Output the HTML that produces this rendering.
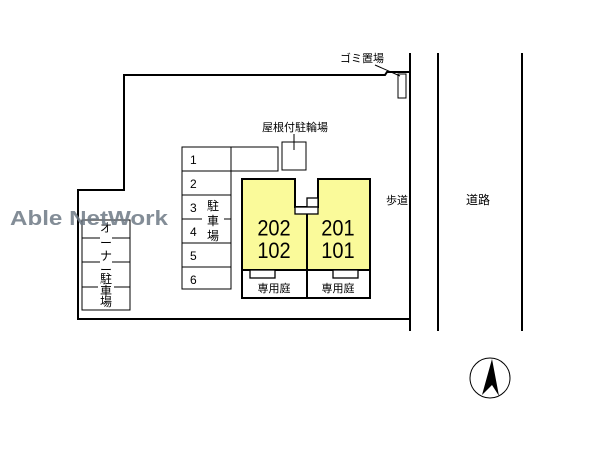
<!DOCTYPE html>
<html><head><meta charset="utf-8"><style>body{margin:0;background:#fff}</style></head><body>
<svg width="600" height="450" xmlns="http://www.w3.org/2000/svg" font-family="Liberation Sans, Noto Sans CJK JP, sans-serif">
<rect width="600" height="450" fill="#fff"/>
<g stroke="#000" fill="none" stroke-width="2">
<path d="M410,72 L387,72 L385,75 L124,75 L124,190 L78,190 L78,319 L410,319"/>
<line x1="410" y1="53" x2="410" y2="331"/>
<line x1="438" y1="53" x2="438" y2="331"/>
<line x1="522" y1="53" x2="522" y2="331"/>
</g>
<g stroke="#000" fill="none" stroke-width="1">
<rect x="398" y="74" width="8" height="24"/>
<line x1="375" y1="65" x2="400" y2="76"/>
<rect x="182" y="147" width="49" height="142"/>
<line x1="182" y1="171" x2="231" y2="171"/><line x1="182" y1="195" x2="231" y2="195"/>
<line x1="182" y1="219" x2="202" y2="219"/><line x1="224" y1="219" x2="231" y2="219"/>
<line x1="182" y1="243" x2="231" y2="243"/><line x1="182" y1="267" x2="231" y2="267"/>
<rect x="231" y="147" width="47" height="24"/>
<rect x="282" y="142" width="24" height="28"/>
<line x1="294" y1="134" x2="294" y2="150"/>
<rect x="82" y="220" width="48" height="90"/>
<line x1="82" y1="238" x2="100" y2="238"/><line x1="112" y1="238" x2="130" y2="238"/>
<line x1="82" y1="262" x2="100" y2="262"/><line x1="112" y1="262" x2="130" y2="262"/>
<line x1="82" y1="287" x2="98" y2="287"/><line x1="114" y1="287" x2="130" y2="287"/>
</g>
<g stroke="#000" stroke-width="2">
<path d="M242,179 L295,179 L295,207 L307,207 L307,270 L242,270 Z" fill="#fafa9a"/>
<path d="M318,179 L370,179 L370,270 L307,270 L307,207 L318,207 Z" fill="#fafa9a"/>
<rect x="242" y="270" width="128" height="28" fill="#fff"/>
<line x1="307" y1="270" x2="307" y2="298"/>
</g>
<g stroke="#000" stroke-width="1.3" fill="#fff">
<rect x="307" y="198" width="11" height="9"/>
<rect x="295" y="207" width="23" height="7"/>
<rect x="250" y="270" width="25" height="8"/>
<rect x="333" y="270" width="25" height="8"/>
</g>
<g font-size="20" text-anchor="middle" fill="#000">
<text x="274" y="236" transform="translate(0,-24) scale(1,1.1)">202</text>
<text x="274" y="258" transform="translate(0,-26) scale(1,1.1)">102</text>
<text x="338" y="236" transform="translate(0,-24) scale(1,1.1)">201</text>
<text x="338" y="258" transform="translate(0,-26) scale(1,1.1)">101</text>
</g>
<g font-size="11" fill="#000">
<text x="274" y="292" text-anchor="middle">専用庭</text>
<text x="338" y="292" text-anchor="middle">専用庭</text>
<text x="295" y="131" text-anchor="middle">屋根付駐輪場</text>
<text x="362" y="62" text-anchor="middle">ゴミ置場</text>
<text x="397" y="204" text-anchor="middle">歩道</text>
<text x="478" y="204" text-anchor="middle" font-size="12">道路</text>
<g font-size="12">
<text x="190" y="164">1</text><text x="190" y="188">2</text><text x="190" y="212">3</text>
<text x="190" y="236">4</text><text x="190" y="260">5</text><text x="190" y="284">6</text>
</g>
<text x="207" y="210" font-size="12">駐</text><text x="207" y="225" font-size="12">車</text><text x="207" y="240" font-size="12">場</text>
<g font-size="12" text-anchor="middle">
<text x="106" y="232">オ</text><text x="106" y="247">ー</text>
<text x="106" y="260">ナ</text><text x="106" y="274">ー</text>
<text x="106" y="283">駐</text><text x="106" y="295">車</text>
<text x="106" y="306">場</text>
</g>
</g>
<text x="10" y="225" font-size="20" font-weight="bold" fill="#6e7a86" opacity="0.85" textLength="158" lengthAdjust="spacingAndGlyphs">Able NetWork</text>
<circle cx="490" cy="378" r="20" fill="none" stroke="#000" stroke-width="1"/>
<path d="M492,359 L482,395 L492,385 L499,396 Z" fill="#000"/>
</svg>
</body></html>
